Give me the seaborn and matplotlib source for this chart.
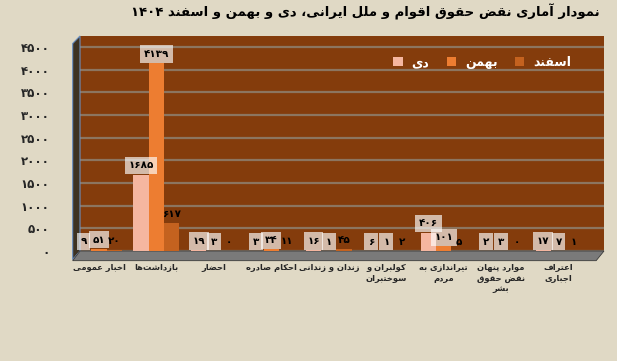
import re
import pandas as pd
import matplotlib
matplotlib.use('Agg')
import matplotlib.pyplot as plt
from matplotlib.patches import Polygon
from matplotlib.transforms import offset_copy
import seaborn as sns

# chart data
title = 'نمودار آماری نقض حقوق اقوام و ملل ایرانی، دی و بهمن و اسفند ۱۴۰۴'
categories = ['اخبار عمومی', 'بازداشت\u200cها', 'احضار', 'احکام صادره', 'زندان و زندانی',
              'کولبران و\nسوختبران', 'تیراندازی به\nمردم', 'موارد پنهان\nنقض حقوق\nبشر',
              'اعتراف\nاجباری']
months = ['دی', 'بهمن', 'اسفند']
dey = [9, 1685, 19, 3, 16, 6, 406, 2, 17]
bahman = [51, 4139, 3, 34, 1, 1, 101, 3, 7]
esfand = [20, 617, 0, 11, 45, 2, 5, 0, 1]
yticks = [0, 500, 1000, 1500, 2000, 2500, 3000, 3500, 4000, 4500]
colors = ['#F5B6A0', '#ED7D31', '#C4621F']

# minimal arabic/persian shaping (matplotlib has no shaping engine)
_B = {  # char: (isolated, final, initial, medial)
    'ا': (0xFE8D, 0xFE8E), 'آ': (0xFE81, 0xFE82), 'د': (0xFEA9, 0xFEAA), 'ذ': (0xFEAB, 0xFEAC),
    'ر': (0xFEAD, 0xFEAE), 'ز': (0xFEAF, 0xFEB0), 'و': (0xFEED, 0xFEEE), 'ژ': (0xFB8A, 0xFB8B),
    'ب': (0xFE8F, 0xFE90, 0xFE91, 0xFE92), 'ت': (0xFE95, 0xFE96, 0xFE97, 0xFE98),
    'ث': (0xFE99, 0xFE9A, 0xFE9B, 0xFE9C), 'ج': (0xFE9D, 0xFE9E, 0xFE9F, 0xFEA0),
    'ح': (0xFEA1, 0xFEA2, 0xFEA3, 0xFEA4), 'خ': (0xFEA5, 0xFEA6, 0xFEA7, 0xFEA8),
    'س': (0xFEB1, 0xFEB2, 0xFEB3, 0xFEB4), 'ش': (0xFEB5, 0xFEB6, 0xFEB7, 0xFEB8),
    'ص': (0xFEB9, 0xFEBA, 0xFEBB, 0xFEBC), 'ض': (0xFEBD, 0xFEBE, 0xFEBF, 0xFEC0),
    'ط': (0xFEC1, 0xFEC2, 0xFEC3, 0xFEC4), 'ظ': (0xFEC5, 0xFEC6, 0xFEC7, 0xFEC8),
    'ع': (0xFEC9, 0xFECA, 0xFECB, 0xFECC), 'غ': (0xFECD, 0xFECE, 0xFECF, 0xFED0),
    'ف': (0xFED1, 0xFED2, 0xFED3, 0xFED4), 'ق': (0xFED5, 0xFED6, 0xFED7, 0xFED8),
    'ک': (0xFB8E, 0xFB8F, 0xFB90, 0xFB91), 'گ': (0xFB92, 0xFB93, 0xFB94, 0xFB95),
    'ل': (0xFEDD, 0xFEDE, 0xFEDF, 0xFEE0), 'م': (0xFEE1, 0xFEE2, 0xFEE3, 0xFEE4),
    'ن': (0xFEE5, 0xFEE6, 0xFEE7, 0xFEE8), 'ه': (0xFEE9, 0xFEEA, 0xFEEB, 0xFEEC),
    'ی': (0xFBFC, 0xFBFD, 0xFBFE, 0xFBFF), 'پ': (0xFB56, 0xFB57, 0xFB58, 0xFB59),
    'چ': (0xFB7A, 0xFB7B, 0xFB7C, 0xFB7D),
}


def _line(t):
    out = []
    for i, c in enumerate(t):
        f = _B.get(c)
        if f is None:
            out.append(c)
            continue
        p = t[i - 1] if i > 0 else ''
        n = t[i + 1] if i + 1 < len(t) else ''
        jp = p in _B and len(_B[p]) == 4
        jn = n in _B and len(f) == 4
        if jp and jn:
            k = 3
        elif jp:
            k = 1
        elif jn:
            k = 2
        else:
            k = 0
        out.append(chr(f[k]))
    s = ''.join(out).replace('\u200c', '')[::-1]
    return re.sub(r'[0-9\u06F0-\u06F9]+', lambda m: m.group(0)[::-1], s)


def fa(t):
    return '\n'.join(_line(x) for x in str(t).split('\n'))


def fa_num(v):
    return str(v).translate(str.maketrans('0123456789', '۰۱۲۳۴۵۶۷۸۹'))


df = pd.DataFrame({
    'cat': [fa(c) for c in categories] * 3,
    'month': [fa(m) for m in months for _ in categories],
    'value': dey + bahman + esfand,
})

sns.set_style('white')
plt.rcParams['font.family'] = ['DejaVu Sans']

fig = plt.figure(figsize=(6.17, 3.61), dpi=100)
fig.patch.set_facecolor('#E0D9C5')
ax = fig.add_axes([80 / 617, 1 - 251 / 361, (604 - 80) / 617, (251 - 36) / 361])
ax.set_facecolor('#843C0C')

sns.barplot(data=df, x='cat', y='value', hue='month', palette=colors,
            width=0.8, saturation=1, linewidth=0, ax=ax, zorder=3)

ax.set_xlim(-0.33, 8.79)
ax.set_ylim(0, 4740)
ax.set_yticks(yticks)
ax.set_yticklabels([fa_num(v) for v in yticks], fontsize=8.5, fontweight='bold')
for lab in ax.get_yticklabels():
    lab.set_transform(offset_copy(lab.get_transform(), fig=fig, x=0, y=-5, units='dots'))
ax.yaxis.grid(True, color='#8C7560', linewidth=1.6, zorder=0)
ax.set_axisbelow(True)
ax.tick_params(axis='y', length=0, pad=22)
ax.tick_params(axis='x', length=0, pad=9, labelsize=6)
for lab in ax.get_xticklabels():
    lab.set_fontweight('bold')
ax.set_xlabel('')
ax.set_ylabel('')
for s in ax.spines.values():
    s.set_visible(False)

# pseudo 3D wall and floor
ax.add_patch(Polygon([(0, 0), (0, 1), (-0.014, 0.965), (-0.014, -0.04)], closed=True,
                     transform=ax.transAxes, clip_on=False, facecolor='#3D3222',
                     edgecolor='#6A8FC0', linewidth=0.8, zorder=1))
ax.add_patch(Polygon([(0, 0), (1.0, 0), (0.985, -0.045), (-0.014, -0.045)], closed=True,
                     transform=ax.transAxes, clip_on=False, facecolor='#7A7A7A',
                     edgecolor='#3A3A3A', linewidth=0.6, zorder=1))

# data labels
for i, cont in enumerate(ax.containers):
    vals = [dey, bahman, esfand][i]
    kw = dict(labels=[fa_num(v) for v in vals], padding=3, fontsize=7.5,
              fontweight='bold', color='black', zorder=5)
    if i < 2:
        kw['bbox'] = dict(boxstyle='square,pad=0.35', facecolor='white',
                          edgecolor='none', alpha=0.65)
    ax.bar_label(cont, **kw)

ax.legend(loc='upper right', bbox_to_anchor=(0.947, 0.93), ncol=3, frameon=False,
          borderaxespad=0, handlelength=0.75, handleheight=0.75, columnspacing=1.4,
          handletextpad=0.7, labelcolor='white', prop={'weight': 'bold', 'size': 9})

fig.text(600 / 617, 1 - 12 / 361, fa(title), ha='right', va='center',
         fontsize=9.5, fontweight='bold', color='black')

fig.savefig('out.png', dpi=100, facecolor=fig.get_facecolor())
